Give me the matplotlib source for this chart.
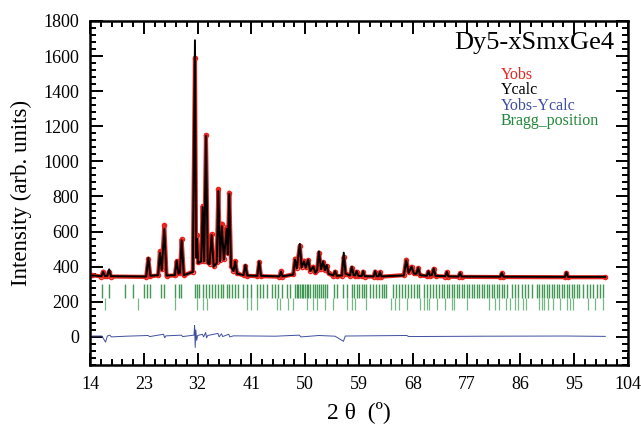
import numpy as np
import matplotlib
matplotlib.use("Agg")
import matplotlib.pyplot as plt

plt.rcParams['font.family'] = ['Liberation Serif', 'DejaVu Serif']

# profile vertices (2theta, Ycalc, Yobs)
two_theta = [14.4, 15.9, 16.2, 16.5, 16.9, 17.2, 17.5, 23.4, 23.75, 24.1,
             25.4, 25.7, 26.0, 26.43, 26.8, 28.2, 28.5, 28.8, 29.05, 29.33,
             29.7, 31.2, 31.56, 31.75, 31.9, 32.1, 32.6, 32.85, 33.1, 33.4,
             33.7, 34.0, 34.35, 34.7, 35.2, 35.47, 35.75, 36.05, 36.4, 36.86,
             37.05, 37.3, 37.6, 38.0, 38.3, 38.6, 39.7, 40.0, 40.3, 42.0,
             42.3, 42.6, 45.7, 45.95, 46.2, 48.0, 48.3, 48.6, 49.1, 49.4,
             49.8, 50.1, 50.5, 50.85, 51.35, 51.7, 52.0, 52.3, 52.65, 53.0,
             53.3, 53.6, 53.9, 54.7, 55.0, 55.3, 56.15, 56.45, 56.75, 57.5,
             57.8, 58.1, 58.35, 58.6, 58.9, 59.45, 59.7, 59.95, 61.45, 61.7,
             61.95, 62.3, 62.5, 62.75, 66.5, 66.9, 67.3, 67.8, 68.2, 68.6,
             68.9, 69.2, 70.35, 70.6, 70.85, 71.2, 71.5, 71.8, 73.45, 73.7,
             73.95, 75.65, 75.9, 76.15, 82.65, 82.9, 83.15, 93.45, 93.7, 93.95,
             100.2]
y_calc = [350, 346, 370, 347, 348, 385, 346, 344, 450, 348,
          352, 480, 380, 615, 350, 352, 435, 360, 365, 550,
          352, 370, 1690, 450, 560, 420, 430, 740, 430, 1145,
          420, 415, 580, 400, 420, 830, 430, 630, 440, 615,
          470, 815, 400, 375, 430, 360, 352, 410, 350, 348,
          430, 348, 345, 372, 345, 355, 440, 390, 530, 395,
          430, 395, 440, 375, 400, 365, 380, 487, 385, 430,
          380, 410, 360, 350, 375, 348, 350, 480, 360, 350,
          400, 352, 350, 375, 348, 347, 375, 346, 345, 375,
          346, 346, 370, 345, 350, 436, 365, 400, 360, 360,
          395, 352, 348, 375, 350, 352, 390, 348, 346, 370,
          345, 344, 365, 344, 343, 365, 343, 342, 368, 342,
          342]
y_obs = [352, 344, 372, 345, 347, 372, 344, 342, 446, 346,
         350, 488, 385, 638, 348, 350, 432, 362, 363, 556,
         350, 372, 1590, 470, 582, 425, 432, 746, 435, 1150,
         425, 418, 585, 405, 425, 842, 440, 645, 445, 625,
         480, 822, 405, 378, 432, 362, 350, 405, 348, 346,
         425, 346, 343, 375, 343, 357, 446, 395, 520, 400,
         435, 398, 436, 378, 400, 367, 382, 480, 388, 425,
         382, 405, 362, 348, 372, 346, 348, 455, 358, 348,
         395, 350, 348, 372, 346, 345, 372, 344, 343, 372,
         344, 344, 368, 343, 352, 440, 368, 400, 362, 362,
         392, 350, 346, 372, 348, 350, 388, 346, 344, 368,
         343, 342, 362, 342, 341, 362, 341, 340, 365, 340,
         340]

# difference curve
diff_tt = [14.4, 16.0, 16.6, 16.9, 17.3, 17.6, 20.0, 23.7, 24.0, 26.3,
           26.5, 26.7, 29.3, 29.5, 31.4, 31.5, 31.6, 31.7, 31.85, 32.0,
           32.8, 33.0, 33.35, 33.5, 33.7, 35.4, 35.6, 36.0, 36.2, 37.2,
           37.4, 38.0, 42.0, 45.0, 49.0, 49.3, 52.3, 55.0, 56.4, 56.7,
           60.0, 67.0, 67.3, 80.0, 93.7, 100.2]
diff_val = [5, 5, -30, 5, 10, 0, 4, 8, 2, 15,
            -5, 6, 10, 2, 10, 65, -60, 40, -20, 8,
            15, 0, 25, -5, 8, 20, 0, 18, 2, 15,
            0, 6, 5, 4, 10, 0, 8, 4, -25, 5,
            6, 8, 2, 4, 5, 3]

# Bragg positions, two phases
bragg_1 = [16.0, 17.1, 19.9, 21.2, 23.0, 23.5, 24.0, 25.8, 26.4, 28.3,
           28.9, 29.3, 31.6, 31.95, 32.3, 32.85, 33.4, 33.85, 34.35, 34.9,
           35.47, 35.86, 36.3, 36.86, 37.25, 37.7, 38.25, 38.8, 39.65, 40.2,
           41.0, 41.9, 42.45, 43.0, 43.65, 44.4, 44.95, 45.5, 46.05, 46.9,
           47.45, 48.3, 48.55, 48.85, 49.15, 49.4, 49.7, 49.95, 50.25, 50.5,
           50.8, 51.35, 51.65, 51.9, 52.35, 52.6, 52.9, 53.3, 53.6, 54.8,
           55.4, 56.38, 57.05, 57.77, 58.16, 58.61, 59.05, 59.44, 59.83, 60.17,
           60.84, 61.4, 61.84, 62.4, 62.79, 63.18, 63.52, 64.74, 65.19, 65.75,
           66.14, 66.69, 67.25, 67.64, 68.2, 68.64, 69.09, 69.87, 70.43, 70.87,
           71.43, 71.88, 72.33, 72.83, 73.22, 73.66, 74.11, 74.5, 74.89, 75.34,
           75.78, 76.17, 76.56, 77.01, 77.46, 77.85, 78.24, 78.68, 79.13, 79.52,
           79.91, 80.35, 80.8, 81.19, 81.58, 82.03, 82.47, 82.86, 83.25, 83.7,
           84.54, 85.09, 85.65, 86.21, 86.77, 87.32, 87.88, 88.72, 89.16, 89.55,
           89.95, 90.39, 90.84, 91.23, 91.62, 92.06, 92.51, 92.9, 93.29, 93.74,
           94.18, 94.57, 94.96, 95.41, 95.86, 96.52, 97.08, 97.64, 98.2, 98.76,
           99.31, 99.87]
bragg_2 = [16.5, 22.0, 28.3, 31.95, 32.85, 33.5, 40.2, 40.9, 41.9, 45.2,
           45.8, 47.2, 48.0, 50.25, 51.35, 52.0, 53.3, 54.7, 56.94, 57.77,
           58.33, 60.17, 64.3, 65.02, 65.75, 66.97, 69.2, 69.87, 70.43, 70.76,
           71.99, 73.38, 74.5, 74.89, 77.01, 80.8, 81.75, 82.47, 83.59, 84.26,
           85.09, 85.65, 86.49, 86.93, 89.16, 89.55, 89.95, 90.67, 91.51, 92.62,
           93.74, 94.29, 94.85, 97.36, 98.48, 99.87]

x_ticks = [14, 23, 32, 41, 50, 59, 68, 77, 86, 95, 104]
y_ticks = [0, 200, 400, 600, 800, 1000, 1200, 1400, 1600, 1800]

fig = plt.figure(figsize=(6.41, 4.30), dpi=100)
ax = fig.add_axes([0.1404, 0.1512, 0.8393, 0.8000])

ax.vlines(bragg_1, 222, 302, color='#23873a', lw=1.0, alpha=0.85)
ax.vlines(bragg_2, 152, 222, color='#74b983', lw=0.9)
ax.plot(diff_tt, diff_val, color='#3f4fa0', lw=0.7)
ax.plot(two_theta, y_obs, color='#e5261f', lw=3, solid_capstyle='round')
ax.plot(two_theta, y_obs, 'o', mfc='none', mec='#e5261f', ms=3, mew=1)
ax.plot(two_theta, y_calc, color='black', lw=1.4)

ax.set_xlim(14, 104)
ax.set_ylim(-160, 1800)
ax.set_xticks(x_ticks)
ax.set_yticks(y_ticks)
ax.set_xticks(np.arange(14, 104.1, 1.8), minor=True)
ax.set_yticks(np.arange(-160, 1801, 40), minor=True)
ax.tick_params(which='both', direction='in', top=True, right=True,
               width=1.4, labelsize=13, pad=8)
ax.tick_params(which='major', length=9)
ax.tick_params(which='minor', length=4.5)
for s in ax.spines.values():
    s.set_linewidth(1.8)

ax.set_xlabel('2 θ  (º)', fontsize=17, labelpad=6)
ax.set_ylabel('Intensity (arb. units)', fontsize=16.5, labelpad=8)

ax.text(0.975, 0.935, 'Dy5-xSmxGe4', transform=ax.transAxes, ha='right',
        va='center', fontsize=19)
leg = [('Yobs', '#e5261f'), ('Ycalc', 'black'),
       ('Yobs-Ycalc', '#3f4fa0'), ('Bragg_position', '#23873a')]
for i, (t, c) in enumerate(leg):
    ax.text(0.763, 0.842 - i * 0.044, t, color=c, transform=ax.transAxes,
            ha='left', va='center', fontsize=11.5)

fig.savefig('out.png', dpi=100)
